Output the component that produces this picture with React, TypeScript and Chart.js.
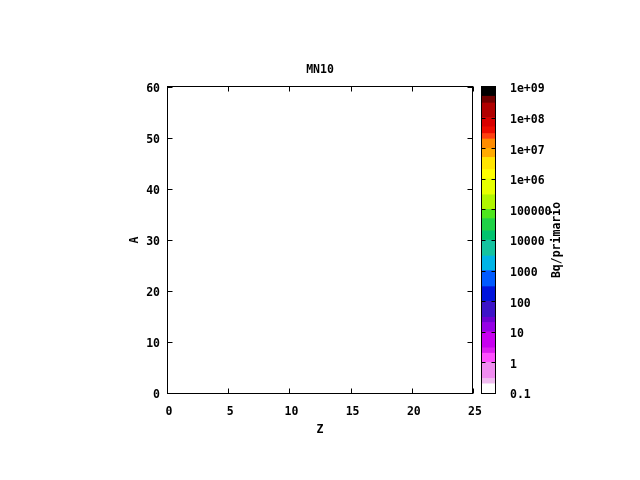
import React, { useEffect, useRef } from "react";
import { Chart, registerables } from "chart.js";

Chart.register(...registerables);

// ---- data ----
const TITLE = "MN10";
const X_LABEL = "Z";
const Y_LABEL = "A";
const CB_LABEL = "Bq/primario";

const X_MIN = 0;
const X_MAX = 25;
const Y_MIN = 0;
const Y_MAX = 60;
const X_TICKS = [0, 5, 10, 15, 20, 25];
const Y_TICKS = [0, 10, 20, 30, 40, 50, 60];

// the plot itself holds no points
const POINTS_Z: number[] = [];
const POINTS_A: number[] = [];

const CB_MIN = 0.1;
const CB_MAX = 1e9;
const CB_TICK_VALUES = [0.1, 1, 10, 100, 1000, 10000, 100000, 1e6, 1e7, 1e8, 1e9];
const CB_TICK_LABELS = ["0.1", "1", "10", "100", "1000", "10000", "100000", "1e+06", "1e+07", "1e+08", "1e+09"];

// colour bar bands (low, high, colour), bottom to top
const CB_LOWS = [0.1, 0.2, 0.3, 1, 2, 3, 10, 20, 30, 100, 300, 1e3, 3e3, 1e4, 2e4, 5e4, 1e5, 3e5, 1e6, 2e6, 5e6, 1e7, 2e7, 3e7, 5e7, 1e8, 3e8, 5e8];
const CB_HIGHS = [0.2, 0.3, 1, 2, 3, 10, 20, 30, 100, 300, 1e3, 3e3, 1e4, 2e4, 5e4, 1e5, 3e5, 1e6, 2e6, 5e6, 1e7, 2e7, 3e7, 5e7, 1e8, 3e8, 5e8, 1e9];
const CB_COLORS = [
  "#ffffff", "#f0bcf0", "#f08cf0", "#ff50ff", "#dc1ef0", "#c800f0", "#9600e6", "#6e00d2",
  "#3c14c8", "#0014dc", "#005aff", "#00b4e6", "#14c3a0", "#00c36e", "#1ed246", "#4ee61e",
  "#b0f500", "#e6ff00", "#ffff00", "#ffe400", "#ffaa00", "#ff8c00", "#ff4010", "#ec0c00",
  "#d80000", "#b00000", "#700000", "#000000",
];

const FONT_FAMILY = "'DejaVu Sans Mono', 'Liberation Mono', monospace";
const FONT = { family: FONT_FAMILY, size: 11.5, weight: "bold" as const };

const framePlugin = {
  id: "frame",
  afterDraw(chart: any) {
    const { ctx, chartArea: a, scales } = chart;
    const L = Math.round(a.left) + 0.5;
    const R = Math.round(a.right) - 0.5;
    const T = Math.round(a.top) - 0.5;
    const B = Math.round(a.bottom) + 0.5;
    const tl = 5;
    ctx.save();
    ctx.strokeStyle = "#000";
    ctx.lineWidth = 1;
    ctx.beginPath();
    for (const v of X_TICKS) {
      const p = Math.round(scales.x.getPixelForValue(v)) + 0.5;
      ctx.moveTo(p, B); ctx.lineTo(p, B - tl);
      ctx.moveTo(p, T); ctx.lineTo(p, T + tl);
    }
    for (const v of Y_TICKS) {
      const p = Math.round(scales.y.getPixelForValue(v)) + 0.5;
      ctx.moveTo(L, p); ctx.lineTo(L + tl, p);
      ctx.moveTo(R, p); ctx.lineTo(R - tl, p);
    }
    ctx.stroke();
    ctx.strokeRect(L, T, R - L, B - T);
    ctx.restore();
  },
};

const cbPlugin = {
  id: "cbframe",
  afterDraw(chart: any) {
    const { ctx, chartArea: a, scales } = chart;
    const L = Math.round(a.left) + 0.5;
    const R = Math.round(a.right) - 0.5;
    const T = Math.round(a.top) - 0.5;
    const B = Math.round(a.bottom) + 0.5;
    const tl = 4;
    ctx.save();
    ctx.strokeStyle = "#000";
    ctx.lineWidth = 1;
    ctx.beginPath();
    for (const v of CB_TICK_VALUES) {
      const p = Math.round(scales.y.getPixelForValue(v)) + 0.5;
      ctx.moveTo(L, p); ctx.lineTo(L + tl, p);
      ctx.moveTo(R, p); ctx.lineTo(R - tl, p);
    }
    ctx.stroke();
    ctx.strokeRect(L, T, R - L, B - T);
    // colour bar label, reading bottom to top
    ctx.fillStyle = "#000";
    ctx.font = `bold ${FONT.size}px ${FONT_FAMILY}`;
    ctx.textAlign = "center";
    ctx.textBaseline = "middle";
    ctx.translate(557, (a.top + a.bottom) / 2);
    ctx.rotate(-Math.PI / 2);
    ctx.fillText(CB_LABEL, 0, 0);
    ctx.restore();
  },
};

export default function App() {
  const mainRef = useRef<HTMLCanvasElement>(null);
  const cbRef = useRef<HTMLCanvasElement>(null);

  useEffect(() => {
    const main = new Chart(mainRef.current!, {
      type: "scatter",
      data: {
        datasets: [
          {
            data: POINTS_Z.map((z, i) => ({ x: z, y: POINTS_A[i] })),
            pointRadius: 3,
            backgroundColor: "#000",
          },
        ],
      },
      options: {
        responsive: false,
        animation: false,
        layout: { padding: { left: 0, right: 0, top: 0, bottom: 0 } },
        plugins: {
          legend: { display: false },
          tooltip: { enabled: false },
          title: {
            display: true,
            text: TITLE,
            color: "#000",
            font: FONT,
            padding: { top: 63.1, bottom: 10.1 },
          },
        },
        scales: {
          x: {
            type: "linear",
            min: X_MIN,
            max: X_MAX,
            afterBuildTicks: (s: any) => {
              s.ticks = X_TICKS.map((v) => ({ value: v }));
            },
            afterFit: (s: any) => {
              s.height = 87;
            },
            grid: { display: false, drawTicks: false },
            border: { display: false },
            ticks: { color: "#000", font: FONT, padding: 12, labelOffset: 2, maxRotation: 0, autoSkip: false },
            title: { display: true, text: X_LABEL, color: "#000", font: FONT, padding: { top: 0, bottom: 43 } },
          },
          y: {
            type: "linear",
            min: Y_MIN,
            max: Y_MAX,
            afterBuildTicks: (s: any) => {
              s.ticks = Y_TICKS.map((v) => ({ value: v }));
            },
            afterFit: (s: any) => {
              s.width = 167;
            },
            grid: { display: false, drawTicks: false },
            border: { display: false },
            ticks: { color: "#000", font: FONT, padding: 7, labelOffset: 2.5, autoSkip: false },
            title: { display: true, text: Y_LABEL, color: "#000", font: FONT, padding: { top: 128.1, bottom: 0 } },
          },
          yRight: {
            type: "linear",
            position: "right",
            min: Y_MIN,
            max: Y_MAX,
            afterFit: (s: any) => {
              s.width = 167;
            },
            grid: { display: false, drawTicks: false },
            border: { display: false },
            ticks: { display: false },
          },
        },
      },
      plugins: [framePlugin],
    } as any);

    const cb = new Chart(cbRef.current!, {
      type: "bar",
      data: {
        labels: [""],
        datasets: CB_COLORS.map((c, i) => ({
          data: [[CB_LOWS[i], CB_HIGHS[i]]],
          backgroundColor: c,
          borderWidth: 0,
          grouped: false,
          barPercentage: 1,
          categoryPercentage: 1,
        })),
      },
      options: {
        responsive: false,
        animation: false,
        layout: { padding: { left: 481, right: 0, top: 87, bottom: 87 } },
        plugins: {
          legend: { display: false },
          tooltip: { enabled: false },
          title: { display: false },
        },
        scales: {
          x: { display: false },
          y: {
            type: "logarithmic",
            position: "right",
            min: CB_MIN,
            max: CB_MAX,
            afterBuildTicks: (s: any) => {
              s.ticks = CB_TICK_VALUES.map((v) => ({ value: v }));
            },
            afterFit: (s: any) => {
              s.width = 144;
            },
            grid: { display: false, drawTicks: false },
            border: { display: false },
            ticks: {
              color: "#000",
              font: FONT,
              padding: 14,
              labelOffset: 2.5,
              autoSkip: false,
              callback: (_v: any, i: number) => CB_TICK_LABELS[i],
            },
          },
        },
      },
      plugins: [cbPlugin],
    } as any);

    return () => {
      main.destroy();
      cb.destroy();
    };
  }, []);

  return (
    <div style={{ position: "fixed", left: 0, top: 0, width: 640, height: 480, background: "#fff" }}>
      <canvas ref={mainRef} width={640} height={480} style={{ position: "absolute", left: 0, top: 0 }} />
      <canvas ref={cbRef} width={640} height={480} style={{ position: "absolute", left: 0, top: 0 }} />
    </div>
  );
}
